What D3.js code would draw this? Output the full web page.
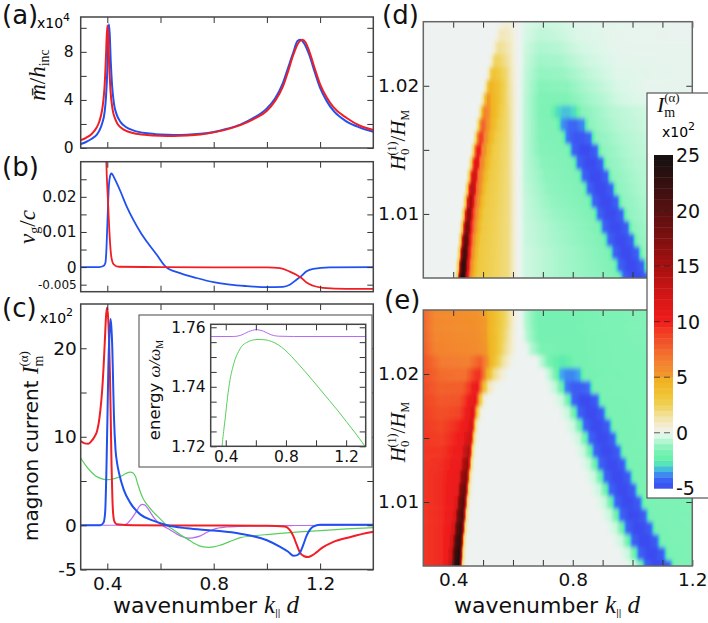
<!DOCTYPE html>
<html>
<head>
<meta charset="utf-8">
<script src="https://cdn.jsdelivr.net/npm/d3@7"></script>
<style>
body { margin: 0; background: #fff; }
svg { display: block; }
</style>
</head>
<body>
<svg id="fig" width="708" height="623"></svg>
<script>
// ---- panel (a): m/h_inc (x1e4) ----
const aRed = [[0.30,0.65],[0.32,0.85],[0.34,1.15],[0.36,1.7],[0.37,2.2],[0.38,3.1],[0.385,3.9],[0.39,5.2],[0.395,7.6],[0.40,10.2],[0.403,9.6],[0.407,7.0],[0.412,4.8],[0.42,3.2],[0.43,2.4],[0.44,1.95],[0.46,1.55],[0.48,1.35],[0.5,1.22],[0.55,1.08],[0.6,1.02],[0.65,1.0],[0.7,1.04],[0.75,1.13],[0.8,1.3],[0.85,1.55],[0.9,1.9],[0.95,2.4],[1.0,3.1],[1.03,3.9],[1.06,5.1],[1.08,6.4],[1.1,7.8],[1.12,8.8],[1.133,9.0],[1.145,8.8],[1.16,8.0],[1.18,6.6],[1.2,5.3],[1.225,4.2],[1.25,3.4],[1.3,2.5],[1.35,1.85],[1.4,1.5]];
const aBlue = [[0.30,0.33],[0.32,0.5],[0.34,0.75],[0.36,1.1],[0.37,1.45],[0.38,2.0],[0.39,3.0],[0.395,4.2],[0.4,6.5],[0.403,9.0],[0.406,10.3],[0.409,9.5],[0.413,7.2],[0.418,5.2],[0.425,3.7],[0.435,2.8],[0.45,2.15],[0.47,1.75],[0.5,1.45],[0.55,1.22],[0.6,1.12],[0.65,1.08],[0.7,1.1],[0.75,1.18],[0.8,1.33],[0.85,1.6],[0.9,1.95],[0.95,2.5],[1.0,3.3],[1.03,4.1],[1.06,5.4],[1.08,6.7],[1.1,8.0],[1.115,8.9],[1.127,9.0],[1.14,8.7],[1.16,7.7],[1.18,6.3],[1.2,5.0],[1.225,3.9],[1.25,3.1],[1.3,2.2],[1.35,1.7],[1.4,1.35]];

// ---- panel (b): v_g / c ----
const bBlue = [[0.30,0],[0.37,0],[0.385,0.0003],[0.3925,0.0011],[0.396,0.004],[0.399,0.0096],[0.402,0.016],[0.405,0.0218],[0.41,0.0258],[0.415,0.0267],[0.42,0.0263],[0.43,0.0248],[0.448,0.0218],[0.474,0.0171],[0.499,0.0133],[0.524,0.01],[0.549,0.0072],[0.586,0.0035],[0.621,0],[0.674,-0.0017],[0.736,-0.0031],[0.799,-0.0043],[0.861,-0.005],[0.924,-0.0054],[0.999,-0.0057],[1.06,-0.0056],[1.086,-0.005],[1.111,-0.0036],[1.13,-0.0025],[1.149,-0.0012],[1.174,-0.0005],[1.236,-0.0001],[1.4,0]];
const bRed = [[0.39,0.06],[0.396,0.031],[0.4025,0.019],[0.409,0.0086],[0.415,0.003],[0.424,0.0008],[0.443,0.0001],[0.6,0],[1.0,-0.0001],[1.049,-0.0003],[1.086,-0.0013],[1.111,-0.0022],[1.13,-0.0031],[1.149,-0.0044],[1.174,-0.0053],[1.211,-0.0059],[1.3,-0.0062],[1.4,-0.0062]];

// ---- panel (c): magnon current (x1e2) ----
const cRed = [[0.3,9.5],[0.315,9.25],[0.328,9.2],[0.34,9.5],[0.352,10.0],[0.361,10.6],[0.368,11.6],[0.374,13.0],[0.38,15.0],[0.386,17.9],[0.391,21],[0.395,23.5],[0.399,24.6],[0.403,23.5],[0.407,20.5],[0.41,17],[0.413,12],[0.416,6.7],[0.419,3.2],[0.422,1.3],[0.427,0.4],[0.435,0.1],[0.5,0],[1.0,-0.05],[1.067,-0.15],[1.085,-0.5],[1.099,-1.2],[1.112,-2.2],[1.124,-3.07],[1.14,-3.5],[1.155,-3.6],[1.17,-3.4],[1.186,-3.07],[1.21,-2.5],[1.248,-1.9],[1.311,-1.35],[1.39,-0.8],[1.4,-0.75]];
const cBlue = [[0.3,0],[0.374,0],[0.386,0.3],[0.392,1.5],[0.397,6.7],[0.401,13],[0.404,17.9],[0.408,21.5],[0.412,23.3],[0.415,22.5],[0.419,19.8],[0.422,16],[0.425,12.3],[0.431,8.5],[0.437,7],[0.444,5.9],[0.462,4.0],[0.487,2.5],[0.525,1.2],[0.575,0.5],[0.625,0],[0.7,-0.35],[0.8,-0.6],[0.9,-0.95],[1.0,-1.7],[1.05,-2.45],[1.08,-3.0],[1.1,-3.45],[1.112,-3.4],[1.124,-3.1],[1.137,-2.2],[1.149,-1.2],[1.162,-0.5],[1.174,-0.15],[1.2,0.05],[1.4,0.05]];
const cGreen = [[0.3,7.6],[0.318,6.8],[0.337,6.1],[0.355,5.6],[0.375,5.3],[0.395,5.15],[0.412,5.17],[0.43,5.3],[0.45,5.5],[0.47,5.85],[0.487,6.0],[0.497,5.9],[0.506,5.5],[0.515,4.6],[0.525,3.7],[0.535,3.0],[0.544,2.55],[0.56,1.95],[0.575,1.43],[0.6,0.7],[0.619,0.1],[0.64,-0.35],[0.662,-0.8],[0.687,-1.3],[0.712,-1.76],[0.73,-2.1],[0.744,-2.3],[0.762,-2.45],[0.781,-2.5],[0.8,-2.45],[0.825,-2.25],[0.86,-1.85],[0.9,-1.4],[0.95,-1.2],[1.0,-1.05],[1.1,-0.8],[1.186,-0.64],[1.3,-0.42],[1.4,-0.26]];
const cPurple = [[0.3,0],[0.44,0],[0.46,0.05],[0.475,0.2],[0.49,0.7],[0.506,1.4],[0.52,2.1],[0.531,2.35],[0.54,2.3],[0.55,2.0],[0.562,1.45],[0.575,0.86],[0.592,0.3],[0.612,-0.1],[0.635,-0.5],[0.662,-1.0],[0.688,-1.35],[0.705,-1.46],[0.72,-1.42],[0.75,-1.2],[0.775,-0.8],[0.8,-0.45],[0.85,-0.2],[0.9,-0.12],[1.0,-0.07],[1.1,-0.03],[1.4,0]];

// ---- inset: energy w/w_M ----
const insetPurple = [[0.3,1.7569],[0.45,1.7569],[0.5,1.7573],[0.55,1.7585],[0.605,1.7592],[0.65,1.7587],[0.7,1.7575],[0.75,1.757],[0.85,1.7569],[1.33,1.7569]];
const insetGreen = [[0.37,1.715],[0.376,1.72],[0.386,1.725],[0.396,1.7292],[0.412,1.7365],[0.429,1.7425],[0.445,1.7462],[0.462,1.7492],[0.485,1.7518],[0.506,1.7536],[0.54,1.7549],[0.572,1.7556],[0.615,1.7559],[0.661,1.7558],[0.705,1.7552],[0.749,1.7541],[0.793,1.7524],[0.837,1.7502],[0.88,1.7478],[0.926,1.7452],[0.98,1.742],[1.036,1.7386],[1.09,1.7353],[1.146,1.7319],[1.2,1.7284],[1.257,1.7247],[1.323,1.7202],[1.33,1.7197]];

// ---- heat maps (d), (e): one row per field value H0/HM, [k, I] key points ----
const hLevels = [1.005,1.006,1.007,1.008,1.009,1.010,1.011,1.012,1.013,1.014,1.015,1.016,1.017,1.018,1.019,1.020,1.021,1.022,1.023,1.024,1.025];
const dRows = [
 [[0.3,0],[0.403,0],[0.415,3],[0.421,16.8],[0.429,24],[0.437,22.8],[0.445,13.2],[0.457,6],[0.481,3.1],[0.585,1.9],[0.6,0.9],[0.612,0.2],[0.62,0],[0.64,-0.4],[0.76,-0.9],[0.95,-1.5],[0.972,-4.3],[0.998,-5],[1.022,-5],[1.048,-4.4],[1.068,-1.3],[1.15,-0.7],[1.2,-0.4]],
 [[0.3,0],[0.406,0],[0.418,3],[0.424,16.1],[0.432,23],[0.44,21.9],[0.448,12.7],[0.46,6],[0.484,3.1],[0.585,1.9],[0.6,0.9],[0.612,0.2],[0.62,0],[0.64,-0.4],[0.76,-0.9],[0.935,-1.5],[0.957,-4.3],[0.983,-5],[1.007,-5],[1.033,-4.4],[1.053,-1.3],[1.14,-0.7],[1.2,-0.4]],
 [[0.3,0],[0.41,0],[0.422,3],[0.428,15],[0.436,21.5],[0.444,20.4],[0.452,11.8],[0.464,6],[0.488,3.1],[0.585,1.9],[0.6,0.9],[0.612,0.2],[0.62,0],[0.64,-0.4],[0.76,-0.9],[0.918,-1.5],[0.94,-4.3],[0.966,-5],[0.99,-5],[1.016,-4.4],[1.036,-1.3],[1.12,-0.75],[1.2,-0.4]],
 [[0.3,0],[0.414,0],[0.426,3],[0.432,14],[0.44,20],[0.448,19],[0.456,11],[0.468,6],[0.492,3.1],[0.585,1.9],[0.6,0.9],[0.612,0.2],[0.62,0],[0.64,-0.45],[0.76,-1.0],[0.9,-1.5],[0.922,-4.3],[0.948,-5],[0.972,-5],[0.998,-4.4],[1.018,-1.3],[1.1,-0.75],[1.2,-0.4]],
 [[0.3,0],[0.419,0],[0.431,3],[0.437,12.6],[0.445,18],[0.453,17.1],[0.461,9.9],[0.473,6],[0.497,3.1],[0.585,1.9],[0.6,0.9],[0.612,0.2],[0.62,0],[0.64,-0.45],[0.75,-1.0],[0.883,-1.5],[0.905,-4.3],[0.931,-5],[0.955,-5],[0.981,-4.4],[1.001,-1.3],[1.09,-0.75],[1.2,-0.4]],
 [[0.3,0],[0.424,0],[0.436,3],[0.442,11.5],[0.45,16.5],[0.458,15.7],[0.466,9.1],[0.478,5.8],[0.502,3.1],[0.585,1.9],[0.6,0.9],[0.612,0.2],[0.62,0],[0.64,-0.5],[0.74,-1.1],[0.866,-1.5],[0.888,-4.3],[0.914,-5],[0.938,-5],[0.964,-4.4],[0.984,-1.3],[1.07,-0.75],[1.2,-0.35]],
 [[0.3,0],[0.43,0],[0.442,3],[0.448,10.5],[0.456,15],[0.464,14.2],[0.472,8.3],[0.484,5.7],[0.508,3.1],[0.585,1.9],[0.6,0.9],[0.612,0.2],[0.62,0],[0.64,-0.5],[0.73,-1.2],[0.849,-1.5],[0.871,-4.3],[0.897,-5],[0.921,-5],[0.947,-4.4],[0.967,-1.3],[1.06,-0.75],[1.2,-0.35]],
 [[0.3,0],[0.436,0],[0.448,3],[0.454,9.8],[0.462,14],[0.47,13.3],[0.478,7.7],[0.49,5.6],[0.514,3.1],[0.585,1.9],[0.6,0.9],[0.612,0.2],[0.62,0],[0.64,-0.55],[0.72,-1.25],[0.832,-1.5],[0.854,-4.3],[0.88,-5],[0.904,-5],[0.93,-4.4],[0.95,-1.3],[1.04,-0.75],[1.2,-0.35]],
 [[0.3,0],[0.442,0],[0.454,2.8],[0.46,8.7],[0.468,12.5],[0.476,11.9],[0.484,7],[0.496,5.5],[0.52,3.1],[0.585,1.9],[0.6,0.9],[0.612,0.2],[0.62,0],[0.64,-0.6],[0.71,-1.3],[0.815,-1.5],[0.837,-4.3],[0.863,-5],[0.887,-5],[0.913,-4.4],[0.933,-1.3],[1.03,-0.75],[1.2,-0.3]],
 [[0.3,0],[0.449,0],[0.461,2.6],[0.467,8],[0.475,11.5],[0.483,10.9],[0.491,6.6],[0.503,5.4],[0.527,3.1],[0.585,1.9],[0.6,0.9],[0.612,0.2],[0.62,0],[0.64,-0.6],[0.7,-1.35],[0.798,-1.5],[0.82,-4.3],[0.846,-5],[0.87,-5],[0.896,-4.4],[0.916,-1.3],[1.01,-0.75],[1.2,-0.3]],
 [[0.3,0],[0.456,0],[0.468,2.4],[0.474,7.3],[0.482,10.5],[0.49,10],[0.498,6.3],[0.51,5.2],[0.534,3.0],[0.585,1.9],[0.6,0.9],[0.612,0.2],[0.62,0],[0.64,-0.6],[0.69,-1.4],[0.78,-1.5],[0.802,-4.3],[0.828,-5],[0.852,-5],[0.878,-4.4],[0.898,-1.3],[0.99,-0.75],[1.1,-0.4],[1.2,-0.25]],
 [[0.3,0],[0.464,0],[0.476,2.2],[0.482,6.3],[0.49,9],[0.498,8.6],[0.506,6],[0.518,5],[0.542,3.0],[0.585,1.9],[0.6,0.9],[0.612,0.2],[0.62,0],[0.64,-0.6],[0.69,-1.45],[0.76,-1.5],[0.782,-4.0],[0.808,-4.7],[0.832,-4.7],[0.858,-4.1],[0.878,-1.3],[0.97,-0.75],[1.1,-0.35],[1.2,-0.2]],
 [[0.3,0],[0.472,0],[0.484,2],[0.49,5.2],[0.498,7.5],[0.506,7.2],[0.514,5.6],[0.526,4.8],[0.55,3.0],[0.585,1.9],[0.6,0.9],[0.612,0.2],[0.62,0],[0.64,-0.6],[0.69,-1.45],[0.742,-1.5],[0.764,-3.6],[0.79,-4.2],[0.81,-4.2],[0.836,-3.7],[0.856,-1.3],[0.95,-0.7],[1.1,-0.3],[1.2,-0.2]],
 [[0.3,0],[0.48,0],[0.492,1.8],[0.498,4.4],[0.506,6.3],[0.514,6],[0.522,5.2],[0.534,4.5],[0.558,2.9],[0.585,1.9],[0.6,0.9],[0.612,0.2],[0.62,0],[0.64,-0.6],[0.69,-1.5],[0.722,-1.6],[0.744,-2.8],[0.768,-3.2],[0.786,-3.2],[0.81,-2.8],[0.83,-1.4],[0.93,-0.7],[1.1,-0.25],[1.2,-0.15]],
 [[0.3,0],[0.489,0],[0.501,1.6],[0.507,3.7],[0.515,5.3],[0.523,5.1],[0.531,4.6],[0.543,4],[0.567,2.7],[0.59,1.5],[0.608,0.4],[0.62,0],[0.64,-0.6],[0.69,-1.5],[0.78,-1.5],[0.85,-1.0],[0.95,-0.4],[1.05,-0.15],[1.2,-0.1]],
 [[0.3,0],[0.498,0],[0.51,1.4],[0.516,3.1],[0.524,4.5],[0.532,4.4],[0.54,4],[0.552,3.5],[0.574,2.4],[0.592,1.3],[0.608,0.35],[0.62,0],[0.64,-0.55],[0.69,-1.4],[0.78,-1.3],[0.85,-0.8],[0.95,-0.3],[1.05,-0.1],[1.2,-0.1]],
 [[0.3,0],[0.507,0],[0.519,1.1],[0.525,2.4],[0.533,3.4],[0.541,3.3],[0.549,3.1],[0.561,2.7],[0.58,2],[0.595,1.0],[0.61,0.25],[0.62,0],[0.64,-0.5],[0.69,-1.2],[0.77,-1.1],[0.85,-0.6],[0.95,-0.2],[1.2,-0.1]],
 [[0.3,0],[0.516,0],[0.528,0.8],[0.534,1.7],[0.542,2.4],[0.55,2.35],[0.558,2.2],[0.57,1.9],[0.585,1.4],[0.6,0.6],[0.612,0.15],[0.622,0],[0.64,-0.45],[0.69,-1.0],[0.76,-0.9],[0.84,-0.45],[0.95,-0.15],[1.2,-0.1]],
 [[0.3,0],[0.525,0],[0.537,0.5],[0.543,1.1],[0.551,1.6],[0.559,1.6],[0.567,1.5],[0.579,1.25],[0.592,0.9],[0.605,0.35],[0.614,0.1],[0.622,0],[0.64,-0.4],[0.69,-0.8],[0.75,-0.7],[0.83,-0.35],[0.95,-0.1],[1.2,-0.1]],
 [[0.3,0],[0.534,0],[0.546,0.3],[0.552,0.7],[0.56,1.0],[0.568,1.0],[0.576,0.95],[0.59,0.75],[0.605,0.3],[0.616,0.05],[0.622,0],[0.64,-0.3],[0.69,-0.6],[0.75,-0.5],[0.82,-0.25],[0.95,-0.1],[1.2,-0.05]],
 [[0.3,0],[0.544,0],[0.556,0.15],[0.562,0.35],[0.57,0.5],[0.578,0.5],[0.59,0.45],[0.6,0.3],[0.612,0.1],[0.622,0],[0.64,-0.25],[0.7,-0.45],[0.75,-0.4],[0.82,-0.2],[1.2,-0.05]]
];
const eRows = [
 [[0.3,9.3],[0.36,9.6],[0.379,10.3],[0.394,13.5],[0.404,22],[0.418,24.5],[0.424,17],[0.431,2],[0.441,0.2],[0.452,0],[0.97,0],[1.008,-0.5],[1.023,-1.6],[1.045,-4.3],[1.071,-5],[1.095,-5],[1.121,-4.5],[1.143,-1.7],[1.2,-1.5]],
 [[0.3,9.3],[0.36,9.6],[0.381,10.3],[0.396,13.2],[0.406,21.6],[0.42,24],[0.426,16.8],[0.433,2],[0.443,0.2],[0.454,0],[0.952,0],[0.987,-0.5],[1.002,-1.6],[1.024,-4.3],[1.05,-5],[1.074,-5],[1.1,-4.5],[1.122,-1.7],[1.2,-1.5]],
 [[0.3,9.3],[0.36,9.6],[0.384,10.3],[0.399,12.7],[0.409,20.7],[0.423,23],[0.429,16.1],[0.436,2],[0.446,0.2],[0.457,0],[0.93,0],[0.965,-0.5],[0.98,-1.6],[1.002,-4.3],[1.028,-5],[1.052,-5],[1.078,-4.5],[1.1,-1.7],[1.2,-1.5]],
 [[0.3,9.3],[0.36,9.6],[0.388,10.3],[0.403,12.1],[0.413,19.8],[0.427,22],[0.433,15.4],[0.44,2],[0.45,0.2],[0.461,0],[0.91,0],[0.945,-0.5],[0.96,-1.6],[0.982,-4.3],[1.008,-5],[1.032,-5],[1.058,-4.5],[1.08,-1.7],[1.2,-1.5]],
 [[0.3,9.3],[0.36,9.6],[0.392,10.3],[0.407,11.6],[0.417,18.9],[0.431,21],[0.437,14.7],[0.444,2],[0.454,0.2],[0.465,0],[0.891,0],[0.926,-0.5],[0.941,-1.6],[0.963,-4.3],[0.989,-5],[1.013,-5],[1.039,-4.5],[1.061,-1.7],[1.2,-1.5]],
 [[0.3,9.3],[0.36,9.6],[0.396,10.3],[0.411,11.2],[0.421,18],[0.435,20],[0.441,14],[0.448,2],[0.458,0.2],[0.469,0],[0.873,0],[0.908,-0.5],[0.923,-1.6],[0.945,-4.3],[0.971,-5],[0.995,-5],[1.021,-4.5],[1.043,-1.7],[1.2,-1.5]],
 [[0.3,9.3],[0.36,9.6],[0.4,10.3],[0.415,10.8],[0.425,17.1],[0.439,19],[0.445,13.3],[0.452,2],[0.462,0.2],[0.473,0],[0.855,0],[0.89,-0.5],[0.905,-1.6],[0.927,-4.3],[0.953,-5],[0.977,-5],[1.003,-4.5],[1.025,-1.7],[1.2,-1.5]],
 [[0.3,9.3],[0.36,9.6],[0.404,10.3],[0.419,10.6],[0.429,15.8],[0.443,17.5],[0.449,12.3],[0.456,2],[0.466,0.2],[0.477,0],[0.838,0],[0.873,-0.5],[0.888,-1.6],[0.91,-4.3],[0.936,-5],[0.96,-5],[0.986,-4.5],[1.008,-1.7],[1.2,-1.5]],
 [[0.3,9.3],[0.36,9.5],[0.409,10.2],[0.424,10.5],[0.434,14.4],[0.448,16],[0.454,11.2],[0.461,2],[0.471,0.2],[0.482,0],[0.82,0],[0.855,-0.5],[0.87,-1.6],[0.892,-4.3],[0.918,-5],[0.942,-5],[0.968,-4.5],[0.99,-1.7],[1.2,-1.5]],
 [[0.3,9.3],[0.36,9.3],[0.413,10.1],[0.428,10.4],[0.438,13],[0.452,14.5],[0.458,10.2],[0.465,2],[0.475,0.2],[0.486,0],[0.803,0],[0.838,-0.5],[0.853,-1.6],[0.875,-4.3],[0.901,-5],[0.925,-5],[0.951,-4.5],[0.973,-1.7],[1.2,-1.5]],
 [[0.3,9.3],[0.36,9.0],[0.418,10],[0.433,10.3],[0.443,11.7],[0.457,13],[0.463,9.1],[0.47,2],[0.48,0.2],[0.491,0],[0.787,0],[0.822,-0.5],[0.837,-1.6],[0.859,-4.3],[0.885,-5],[0.909,-5],[0.935,-4.5],[0.957,-1.7],[1.2,-1.5]],
 [[0.3,9.2],[0.36,8.7],[0.423,9.8],[0.438,10.2],[0.448,10.8],[0.462,12],[0.468,8.4],[0.475,2],[0.485,0.2],[0.496,0],[0.769,0],[0.804,-0.5],[0.819,-1.6],[0.841,-4.3],[0.867,-5],[0.891,-5],[0.917,-4.5],[0.939,-1.7],[1.2,-1.5]],
 [[0.3,9.0],[0.36,8.3],[0.42,8.8],[0.443,10],[0.453,10.6],[0.467,11.5],[0.473,8.1],[0.482,2.5],[0.494,0.3],[0.506,0],[0.75,0],[0.785,-0.5],[0.8,-1.6],[0.822,-4.3],[0.848,-5],[0.872,-5],[0.898,-4.5],[0.92,-1.7],[1.2,-1.5]],
 [[0.3,8.8],[0.36,8.0],[0.42,8.2],[0.449,9.8],[0.459,10.3],[0.473,11],[0.48,8.5],[0.49,3.5],[0.503,0.6],[0.518,0],[0.73,0],[0.765,-0.5],[0.78,-1.6],[0.802,-4.3],[0.828,-5],[0.852,-5],[0.878,-4.5],[0.9,-1.7],[1.2,-1.5]],
 [[0.3,8.6],[0.36,7.6],[0.43,7.8],[0.456,9.3],[0.466,10],[0.48,10.5],[0.488,8.5],[0.5,4.5],[0.518,1.2],[0.54,0.2],[0.56,0],[0.71,0],[0.742,-0.6],[0.757,-1.6],[0.778,-3.9],[0.803,-4.5],[0.827,-4.5],[0.852,-4.1],[0.874,-1.7],[1.2,-1.45]],
 [[0.3,8.4],[0.36,7.2],[0.44,7.0],[0.463,8.5],[0.473,9.2],[0.487,9.5],[0.497,7.8],[0.512,4.8],[0.535,2],[0.56,0.7],[0.585,0],[0.7,0],[0.725,-0.7],[0.74,-1.6],[0.758,-3.3],[0.78,-3.8],[0.8,-3.8],[0.822,-3.4],[0.842,-1.8],[1.2,-1.4]],
 [[0.3,8.2],[0.36,6.6],[0.45,6.4],[0.475,7.3],[0.49,7.8],[0.505,6.6],[0.52,5],[0.545,3],[0.57,1.3],[0.595,0.2],[0.61,0],[0.675,0],[0.7,-0.8],[0.72,-1.7],[0.74,-2.4],[0.758,-2.6],[0.772,-2.6],[0.79,-2.4],[0.81,-1.8],[1.2,-1.35]],
 [[0.3,7.8],[0.34,6.3],[0.48,5.8],[0.51,5.3],[0.54,3.8],[0.57,2],[0.6,0.5],[0.615,0],[0.64,0],[0.665,-0.8],[0.7,-1.7],[0.8,-1.8],[1.2,-1.3]],
 [[0.3,7.6],[0.34,6.1],[0.48,5.7],[0.51,5.2],[0.54,3.8],[0.575,2],[0.603,0.4],[0.617,0],[0.628,0],[0.65,-0.8],[0.69,-1.8],[0.8,-1.8],[1.2,-1.25]],
 [[0.3,7.5],[0.34,6.0],[0.48,5.6],[0.51,5.1],[0.545,3.6],[0.58,2],[0.606,0.4],[0.618,0],[0.626,0],[0.645,-0.8],[0.685,-1.8],[0.8,-1.8],[1.2,-1.2]],
 [[0.3,7.4],[0.34,6.0],[0.48,5.5],[0.51,5.0],[0.545,3.5],[0.58,2],[0.607,0.4],[0.618,0],[0.625,0],[0.645,-0.8],[0.685,-1.8],[0.8,-1.8],[1.2,-1.2]]
];

// colour map of the bar
const cmapVals = [-5,-4.2,-3.5,-3,-2.5,-1.5,-0.8,-0.25,0,0.6,1.5,2.5,3.5,4.9,5.1,6.5,8,9.2,10,12,15,18,21,25];
const cmapCols = ['#3b4cf0','#3c66f4','#3ea0f0','#4cd8c8','#62f0a8','#7ff2b6','#aef6d0','#dcf7e8','#eef2f1','#f3edd2','#f1e2a0','#f0d256','#f0c232','#f0b020','#f29a2a','#f37e30','#f2582a','#f23a24','#f01c1c','#d81616','#a81010','#761010','#4a1010','#121010'];
const cbTicks = [-5,0,5,10,15,20,25];

// ticks
const xTicksL = [0.4,0.6,0.8,1.0,1.2];
const xLabelsL = [0.4,0.8,1.2];
const yTicksA = [0,2,4,6,8,10], yLabelsA = [0,4,8];
const yTicksB = [-0.005,0,0.005,0.01,0.015,0.02,0.025], yLabelsB = [-0.005,0,0.01,0.02];
const yTicksC = [-5,0,5,10,15,20], yLabelsC = [-5,0,10,20];
const yTicksI = [1.72,1.725,1.73,1.735,1.74,1.745,1.75,1.755,1.76], yLabelsI = [1.72,1.74,1.76];
const xTicksH = [0.4,0.5,0.6,0.7,0.8,0.9,1.0,1.1,1.2], xLabelsH = [0.4,0.8,1.2];
const yTicksH = [1.01,1.015,1.02], yLabelsH = [1.01,1.02];

const RED = '#ef1f25', BLUE = '#2050ef', GREEN = '#58cf5c', PURPLE = '#b56cf2';
const SANS = '"DejaVu Sans", sans-serif', SERIF = '"Liberation Serif", "DejaVu Serif", serif';

const svg = d3.select('#fig');
const defs = svg.append('defs');
// soften the row steps of the heat maps a little, vertically only
defs.append('filter').attr('id', 'vsoft').attr('x', 0).attr('y', -0.05).attr('width', 1).attr('height', 1.1)
  .append('feGaussianBlur').attr('stdDeviation', '0 2.2');

const xL = d3.scaleLinear([0.3, 1.4], [80.7, 373.3]);
const yA = d3.scaleLinear([0, 10.9], [148, 17]);
const yB = d3.scaleLinear([-0.007, 0.03], [291.7, 161.7]);
const yC = d3.scaleLinear([-5, 25], [569.5, 304]);
const xI = d3.scaleLinear([0.3, 1.33], [210.7, 365.7]);
const yI = d3.scaleLinear([1.72, 1.761], [446.3, 324.3]);
const xH = d3.scaleLinear([0.3, 1.2], [423.3, 692.3]);
const yD = d3.scaleLinear([1.005, 1.025], [278, 21.7]);
const yE = d3.scaleLinear([1.005, 1.025], [566, 310]);
const yCb = d3.scaleLinear([-5, 25], [488.3, 155]);
const color = d3.scaleLinear(cmapVals, cmapCols).clamp(true);

const fmt = d => String(d);

function drawAxes(g, x, y, o) {
  const [xa, xb] = x.range(), [ya, yb] = y.range();
  const style = sel => {
    sel.select('.domain').remove();
    sel.selectAll('line').attr('stroke', '#333').attr('stroke-width', 1);
    sel.selectAll('text').attr('fill', '#111');
    sel.attr('font-family', SANS);
  };
  g.append('g').attr('transform', `translate(0,${ya})`)
    .call(d3.axisBottom(x).tickValues(o.xt).tickSize(-6).tickPadding(o.xpad || 7)
      .tickFormat(d => o.xl.includes(d) ? fmt(d) : ''))
    .call(style).attr('font-size', o.xfs || 18);
  g.append('g').attr('transform', `translate(0,${yb})`)
    .call(d3.axisTop(x).tickValues(o.xt).tickSize(-6).tickFormat('')).call(style);
  g.append('g').attr('class', 'yax').attr('transform', `translate(${xa},0)`)
    .call(d3.axisLeft(y).tickValues(o.yt).tickSize(-6).tickPadding(o.ypad)
      .tickFormat(d => o.yl.includes(d) ? fmt(d) : ''))
    .call(style).attr('font-size', o.yfs);
  g.append('g').attr('transform', `translate(${xb},0)`)
    .call(d3.axisRight(y).tickValues(o.yt).tickSize(-6).tickFormat('')).call(style);
  g.append('rect').attr('x', xa).attr('y', yb).attr('width', xb - xa).attr('height', ya - yb)
    .attr('fill', 'none').attr('stroke', o.frame || '#444').attr('stroke-width', 1.5);
}

function clipFor(id, x, y) {
  defs.append('clipPath').attr('id', id).append('rect')
    .attr('x', x.range()[0]).attr('y', y.range()[1])
    .attr('width', x.range()[1] - x.range()[0]).attr('height', y.range()[0] - y.range()[1]);
  return `url(#${id})`;
}

function drawLines(g, x, y, clip, series) {
  const line = d3.line().x(d => x(d[0])).y(d => y(d[1])).curve(d3.curveMonotoneX);
  const lg = g.append('g').attr('clip-path', clip);
  series.forEach(s => lg.append('path').attr('d', line(s.data)).attr('fill', 'none')
    .attr('stroke', s.color).attr('stroke-width', s.w).attr('stroke-linejoin', 'round'));
}

function panelLabel(txt, x, y) {
  svg.append('text').attr('x', x).attr('y', y).attr('font-family', SANS)
    .attr('font-size', 26).attr('fill', '#111').text(txt);
}

function kLabel(cx) {
  const t = svg.append('text').attr('x', cx).attr('y', 613).attr('text-anchor', 'middle')
    .attr('font-size', 22).attr('fill', '#111');
  t.append('tspan').attr('font-family', SANS).text('wavenumber ');
  t.append('tspan').attr('font-family', SERIF).attr('font-style', 'italic').attr('font-size', 25).text('k');
  t.append('tspan').attr('font-family', SANS).attr('font-size', 9).attr('letter-spacing', -0.5).attr('dy', 3).text('||');
  t.append('tspan').attr('font-family', SERIF).attr('font-style', 'italic').attr('font-size', 25).attr('dy', -3).text(' d');
}

// (a)
const gA = svg.append('g');
drawLines(gA, xL, yA, clipFor('clipA', xL, yA), [
  { data: aBlue, color: BLUE, w: 2 }, { data: aRed, color: RED, w: 2 }]);
drawAxes(gA, xL, yA, { xt: xTicksL, xl: [], yt: yTicksA, yl: yLabelsA, yfs: 15.5, ypad: 7 });
panelLabel('(a)', 2, 24);
gA.append('text').attr('x', 37).attr('y', 28).attr('font-family', SANS).attr('font-size', 14)
  .text('x10').append('tspan').attr('dy', -7).attr('font-size', 11).text('4');
{
  const t = gA.append('text').attr('transform', 'translate(45,75) rotate(-90)')
    .attr('text-anchor', 'middle').attr('font-family', SERIF).attr('font-size', 23).attr('fill', '#111');
  t.append('tspan').attr('font-style', 'italic').text('m\u0304');
  t.append('tspan').text('/');
  t.append('tspan').attr('font-style', 'italic').text('h');
  t.append('tspan').attr('font-size', 14).attr('dy', 4).text('inc');
}

// (b)
const gB = svg.append('g');
drawLines(gB, xL, yB, clipFor('clipB', xL, yB), [
  { data: bBlue, color: BLUE, w: 1.8 }, { data: bRed, color: RED, w: 1.8 }]);
drawAxes(gB, xL, yB, { xt: xTicksL, xl: [], yt: yTicksB, yl: yLabelsB, yfs: 15.5, ypad: 4 });
gB.select('.yax').selectAll('text').filter(d => d === -0.005).attr('font-size', 12);
panelLabel('(b)', 2, 176);
{
  const t = gB.append('text').attr('transform', 'translate(35,227) rotate(-90)')
    .attr('text-anchor', 'middle').attr('font-family', SERIF).attr('font-size', 23).attr('fill', '#111');
  t.append('tspan').attr('font-style', 'italic').text('v');
  t.append('tspan').attr('font-size', 14).attr('dy', 4).text('g');
  t.append('tspan').attr('dy', -4).text('/');
  t.append('tspan').attr('font-style', 'italic').text('c');
}

// (c)
const gC = svg.append('g');
drawLines(gC, xL, yC, clipFor('clipC', xL, yC), [
  { data: cPurple, color: PURPLE, w: 1.2 }, { data: cGreen, color: GREEN, w: 1.2 },
  { data: cRed, color: RED, w: 2 }, { data: cBlue, color: BLUE, w: 2 }]);
drawAxes(gC, xL, yC, { xt: xTicksL, xl: xLabelsL, yt: yTicksC, yl: yLabelsC, yfs: 18.5, ypad: 4, xfs: 18.5 });
panelLabel('(c)', 2, 317);
gC.append('text').attr('x', 40).attr('y', 323).attr('font-family', SANS).attr('font-size', 14)
  .text('x10').append('tspan').attr('dy', -7).attr('font-size', 11).text('2');
{
  const t = gC.append('text').attr('transform', 'translate(38,446) rotate(-90)')
    .attr('text-anchor', 'middle').attr('font-size', 20).attr('fill', '#111');
  t.append('tspan').attr('font-family', SANS).text('magnon current ');
  t.append('tspan').attr('font-family', SERIF).attr('font-style', 'italic').attr('font-size', 23).text('I');
  t.append('tspan').attr('font-family', SERIF).attr('font-size', 14).attr('dy', 5).text('m');
  t.append('tspan').attr('font-family', SERIF).attr('font-size', 13).attr('dx', -11).attr('dy', -15).text('(\u03b1)');
}
kLabel(206);

// inset
const gI = svg.append('g');
gI.append('rect').attr('x', 139).attr('y', 315).attr('width', 233).attr('height', 152)
  .attr('fill', '#fff').attr('stroke', '#666').attr('stroke-width', 1.2);
drawLines(gI, xI, yI, clipFor('clipI', xI, yI), [
  { data: insetPurple, color: PURPLE, w: 1 }, { data: insetGreen, color: GREEN, w: 1 }]);
drawAxes(gI, xI, yI, { xt: xTicksL, xl: xLabelsL, yt: yTicksI, yl: yLabelsI, yfs: 15.5, xfs: 15.5, ypad: 5, xpad: 5 });
{
  const t = gI.append('text').attr('transform', 'translate(160,390) rotate(-90)')
    .attr('text-anchor', 'middle').attr('font-size', 16.5).attr('fill', '#111');
  t.append('tspan').attr('font-family', SANS).text('energy ');
  t.append('tspan').attr('font-family', SERIF).attr('font-style', 'italic').attr('font-size', 17).text('\u03c9/\u03c9');
  t.append('tspan').attr('font-family', SERIF).attr('font-size', 10).attr('dy', 3).text('M');
}

// heat maps: each row is a horizontal gradient through its key points
function drawHeat(rows, y, id) {
  const g = svg.append('g').attr('clip-path', clipFor('clip' + id, xH, y))
    .append('g').attr('filter', 'url(#vsoft)');
  const [k0, k1] = xH.domain();
  rows.forEach((pts, i) => {
    const h = hLevels[i];
    const grad = defs.append('linearGradient').attr('id', id + i)
      .attr('gradientUnits', 'userSpaceOnUse')
      .attr('x1', xH(k0)).attr('x2', xH(k1)).attr('y1', 0).attr('y2', 0);
    const stop = (k, v) => grad.append('stop').attr('offset', (k - k0) / (k1 - k0)).attr('stop-color', color(v));
    pts.forEach((p, j) => {
      if (j > 0) {
        const [ka, va] = pts[j - 1];
        for (let s = 1; s < 5; s++) stop(ka + (p[0] - ka) * s / 5, va + (p[1] - va) * s / 5);
      }
      stop(p[0], p[1]);
    });
    // first and last rows reach past the frame so the softening stays inside
    const top = i === rows.length - 1 ? y(h + 0.0015) : y(h + 0.0005);
    const bot = i === 0 ? y(h - 0.0015) : y(h - 0.0005);
    g.append('rect').attr('x', xH(k0)).attr('width', xH(k1) - xH(k0))
      .attr('y', top).attr('height', bot - top + 0.5)
      .attr('fill', `url(#${id}${i})`);
  });
}
drawHeat(dRows, yD, 'hd');
drawHeat(eRows, yE, 'he');
drawAxes(svg.append('g'), xH, yD, { xt: xTicksH, xl: [], yt: yTicksH, yl: yLabelsH, yfs: 18.5, ypad: 4, frame: '#666' });
drawAxes(svg.append('g'), xH, yE, { xt: xTicksH, xl: xLabelsH, yt: yTicksH, yl: yLabelsH, yfs: 18.5, xfs: 18.5, ypad: 4, frame: '#666' });
panelLabel('(d)', 382, 24);
panelLabel('(e)', 384, 309);

function hLabel(cy) {
  const t = svg.append('text').attr('transform', `translate(405,${cy}) rotate(-90)`)
    .attr('text-anchor', 'middle').attr('font-family', SERIF).attr('font-size', 21).attr('fill', '#111');
  t.append('tspan').attr('font-style', 'italic').text('H');
  t.append('tspan').attr('font-size', 13).attr('dy', 4).text('0');
  t.append('tspan').attr('font-size', 12).attr('dx', -7).attr('dy', -13).text('(1)');
  t.append('tspan').attr('dy', 9).text('/');
  t.append('tspan').attr('font-style', 'italic').text('H');
  t.append('tspan').attr('font-size', 12).attr('dy', 4).text('M');
}
hLabel(140);
hLabel(432);
kLabel(547);

// colour bar
const gCb = svg.append('g');
gCb.append('rect').attr('x', 647).attr('y', 93).attr('width', 70).attr('height', 405)
  .attr('fill', '#fff').attr('stroke', '#555').attr('stroke-width', 1.2);
d3.range(-5, 25, 0.5).forEach(v => {
  gCb.append('rect').attr('x', 654).attr('width', 19)
    .attr('y', yCb(v + 0.5)).attr('height', yCb(v) - yCb(v + 0.5) + 0.4).attr('fill', color(v + 0.25));
});
cbTicks.forEach(v => {
  if (v > -5 && v < 25)
    gCb.append('line').attr('x1', 654).attr('x2', 673).attr('y1', yCb(v)).attr('y2', yCb(v))
      .attr('stroke', '#222').attr('stroke-opacity', 0.7).attr('stroke-dasharray', '6 4');
  gCb.append('text').attr('x', 676).attr('y', yCb(v) + 7).attr('font-family', SANS)
    .attr('font-size', 19).attr('fill', '#111').text(fmt(v));
});
{
  const t = gCb.append('text').attr('x', 657).attr('y', 112).attr('font-family', SERIF)
    .attr('font-size', 22).attr('fill', '#111');
  t.append('tspan').attr('font-style', 'italic').text('I');
  t.append('tspan').attr('font-size', 14).attr('dy', 5).text('m');
  t.append('tspan').attr('font-size', 13).attr('dx', -11).attr('dy', -15).text('(\u03b1)');
  gCb.append('text').attr('x', 662).attr('y', 137).attr('font-family', SANS).attr('font-size', 14)
    .text('x10').append('tspan').attr('dy', -7).attr('font-size', 11).text('2');
}
</script>
</body>
</html>
